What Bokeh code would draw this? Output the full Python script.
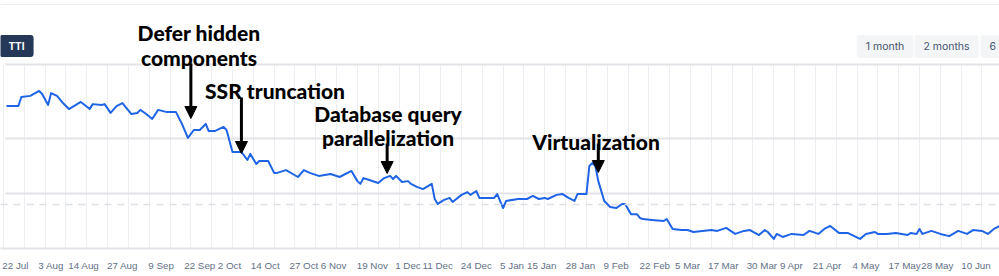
import pandas as pd
from bokeh.plotting import figure
from bokeh.models import (ColumnDataSource, Range1d, FixedTicker, Span, Label,
                          Arrow, NormalHead, Grid)
from bokeh.embed import file_html
from bokeh.resources import INLINE

# ---------------- data ----------------
dates = ["2022-07-19","2022-07-23","2022-07-24","2022-07-27","2022-07-30","2022-07-31",
         "2022-08-02","2022-08-03","2022-08-05","2022-08-07","2022-08-09","2022-08-13",
         "2022-08-16","2022-08-17","2022-08-20","2022-08-21","2022-08-23","2022-08-25",
         "2022-08-27","2022-08-30","2022-09-01","2022-09-02","2022-09-04","2022-09-06",
         "2022-09-08","2022-09-11","2022-09-14","2022-09-16","2022-09-18","2022-09-20",
         "2022-09-22","2022-09-24","2022-09-25","2022-09-27","2022-09-30","2022-10-01",
         "2022-10-03","2022-10-06","2022-10-08","2022-10-09","2022-10-11","2022-10-12",
         "2022-10-15","2022-10-17","2022-10-18","2022-10-21","2022-10-25","2022-10-27",
         "2022-10-29","2022-11-01","2022-11-05","2022-11-08","2022-11-12","2022-11-14",
         "2022-11-15","2022-11-16","2022-11-18","2022-11-21","2022-11-23","2022-11-25",
         "2022-11-26","2022-11-27","2022-11-29","2022-12-01","2022-12-02","2022-12-04",
         "2022-12-06","2022-12-09","2022-12-10","2022-12-11","2022-12-13","2022-12-15",
         "2022-12-16","2022-12-19","2022-12-21","2022-12-22","2022-12-24","2022-12-25",
         "2022-12-28","2022-12-30","2022-12-31","2023-01-02","2023-01-03","2023-01-07",
         "2023-01-10","2023-01-12","2023-01-14","2023-01-16","2023-01-17","2023-01-20",
         "2023-01-22","2023-01-24","2023-01-26","2023-01-27","2023-01-30","2023-01-31",
         "2023-02-01","2023-02-02","2023-02-03","2023-02-05","2023-02-07","2023-02-09",
         "2023-02-11","2023-02-12","2023-02-14","2023-02-16","2023-02-17","2023-02-18",
         "2023-02-21","2023-02-25","2023-02-26","2023-02-28","2023-03-03","2023-03-05",
         "2023-03-07","2023-03-10","2023-03-13","2023-03-15","2023-03-18","2023-03-21",
         "2023-03-24","2023-03-26","2023-03-29","2023-03-31","2023-04-01","2023-04-03",
         "2023-04-04","2023-04-06","2023-04-09","2023-04-13","2023-04-15","2023-04-18",
         "2023-04-20","2023-04-22","2023-04-25","2023-04-28","2023-05-02","2023-05-04",
         "2023-05-07","2023-05-08","2023-05-11","2023-05-14","2023-05-18","2023-05-19",
         "2023-05-21","2023-05-22","2023-05-23","2023-05-26","2023-05-29","2023-06-01",
         "2023-06-04","2023-06-07","2023-06-09","2023-06-12","2023-06-14","2023-06-16",
         "2023-06-18"]

tti = [5.18,5.18,5.51,5.55,5.73,5.62,
       5.22,5.65,5.55,5.29,5.07,5.33,
       5.07,5.25,5.22,5.25,4.93,5.18,
       5.29,4.89,4.93,5.04,4.89,4.71,
       5.04,4.96,4.96,4.53,4.02,4.31,
       4.31,4.53,4.27,4.27,4.42,4.31,
       3.51,3.51,3.22,3.44,3.07,3.18,
       3.18,2.75,2.75,2.85,2.60,2.85,
       2.75,2.64,2.71,2.60,2.82,2.45,
       2.35,2.56,2.49,2.38,2.56,2.64,
       2.53,2.64,2.42,2.45,2.35,2.24,
       2.16,2.35,1.80,1.62,1.76,1.84,
       1.69,1.95,2.05,1.95,2.09,1.84,
       1.84,1.84,1.98,1.47,1.73,1.80,
       1.80,1.91,1.80,1.84,1.80,1.95,
       1.98,1.84,1.73,1.98,1.98,3.00,
       3.11,3.00,2.45,1.73,1.51,1.47,
       1.62,1.62,1.25,1.25,1.11,1.07,
       1.04,1.00,1.07,0.71,0.67,0.67,
       0.60,0.64,0.67,0.64,0.75,0.53,
       0.64,0.67,0.49,0.67,0.60,0.35,
       0.53,0.42,0.53,0.49,0.64,0.53,
       0.71,0.82,0.56,0.56,0.35,0.53,
       0.60,0.53,0.53,0.56,0.49,0.56,
       0.53,0.71,0.53,0.64,0.53,0.45,
       0.64,0.53,0.67,0.64,0.53,0.71,
       0.82]

tick_dates = ["2022-07-22","2022-08-03","2022-08-14","2022-08-27","2022-09-09","2022-09-22",
              "2022-10-02","2022-10-14","2022-10-27","2022-11-06","2022-11-19","2022-12-01",
              "2022-12-11","2022-12-24","2023-01-05","2023-01-15","2023-01-28","2023-02-09",
              "2023-02-22","2023-03-05","2023-03-17","2023-03-30","2023-04-09","2023-04-21",
              "2023-05-04","2023-05-17","2023-05-28","2023-06-10"]
tick_labels = ["22 Jul","3 Aug","14 Aug","27 Aug","9 Sep","22 Sep","2 Oct","14 Oct","27 Oct",
               "6 Nov","19 Nov","1 Dec","11 Dec","24 Dec","5 Jan","15 Jan","28 Jan","9 Feb",
               "22 Feb","5 Mar","17 Mar","30 Mar","9 Apr","21 Apr","4 May","17 May","28 May",
               "10 Jun"]

event_dates = ["2022-09-19", "2022-10-06", "2022-11-24", "2023-02-03"]
event_labels = [["Defer hidden", "components"], ["SSR truncation"],
                ["Database query", "parallelization"], ["Virtualization"]]

grid_values = [2, 4]
target_value = 1.6
metric_button = "TTI"
range_buttons = ["1 month", "2 months", "6 months"]

# ---------------- layout ----------------
W, H = 999, 276
PLOT_LEFT, PLOT_TOP, FRAME_BOTTOM = 5, 64, 248
PX_PER_UNIT = 27.5
Y_END = FRAME_BOTTOM / PX_PER_UNIT          # frame spans the whole canvas height
PX_PER_DAY = 2.974
DAY0_PX = 14.9                              # pixel column of 2022-07-22
DAY0 = pd.Timestamp("2022-07-22")
ANN_FONT = "Lato Black, Lato"


def py(cy):  # canvas pixel row -> data value
    return (FRAME_BOTTOM - cy) / PX_PER_UNIT


def px_to_time(cx):
    return DAY0 + pd.Timedelta(days=(cx - DAY0_PX) / PX_PER_DAY)


def sy(cy):  # canvas row -> screen units of the frame (upwards from bottom)
    return FRAME_BOTTOM - cy


def ms(d):
    return int(pd.Timestamp(d).value // 10**6)


src = ColumnDataSource(dict(date=pd.to_datetime(dates), tti=tti))

x_start = px_to_time(0)
x_end = px_to_time(W)
plot_top_value = py(PLOT_TOP)

p = figure(width=W, height=H, x_axis_type="datetime", y_axis_location=None,
           x_range=Range1d(x_start, x_end), y_range=Range1d(0, Y_END),
           output_backend="svg", toolbar_location=None,
           min_border_left=0, min_border_right=0,
           min_border_top=0, min_border_bottom=H - FRAME_BOTTOM)
p.outline_line_color = None
p.background_fill_color = "white"
p.border_fill_color = "white"

has_cb = "cross_bounds" in Grid.properties()

# grids
p.ygrid.ticker = FixedTicker(ticks=grid_values + [plot_top_value])
p.ygrid.grid_line_color = "#e2e4e8"
p.ygrid.grid_line_width = 2
weekly = pd.date_range("2022-07-18", "2023-06-30", freq="W-MON")
GRID_V = "#eceef1"
p.xgrid.grid_line_color = GRID_V
p.xgrid.grid_line_width = 1
if has_cb:
    p.ygrid.cross_bounds = (ms(px_to_time(PLOT_LEFT)), ms(x_end))
    p.xgrid.ticker = FixedTicker(ticks=[ms(d) for d in weekly])
    p.xgrid.cross_bounds = (0, plot_top_value)
else:
    p.xgrid.visible = False
    p.segment(x0=weekly, x1=weekly, y0=0, y1=plot_top_value,
              line_color=GRID_V, line_width=1)

# x axis
p.xaxis.ticker = FixedTicker(ticks=[ms(d) for d in tick_dates])
p.xaxis.major_label_overrides = {ms(d): lab for d, lab in zip(tick_dates, tick_labels)}
p.xaxis.major_tick_line_color = None
p.xaxis.minor_tick_line_color = None
p.xaxis.axis_line_color = "#e2e4e8"
p.xaxis.axis_line_width = 2
p.xaxis.major_label_standoff = 5
p.xaxis.major_label_text_font = "Liberation Sans"
p.xaxis.major_label_text_font_size = "9.8px"
p.xaxis.major_label_text_color = "#626f86"

# card border line and target line
p.add_layout(Span(location=py(4), dimension="width", line_color="#eeeeee", line_width=1))
p.add_layout(Span(location=target_value, dimension="width", line_color="#dcdfe4",
                  line_width=1.5, line_dash="7 6"))

# series
p.line(x="date", y="tti", source=src, line_color="#1f64e6", line_width=2, line_join="round")

# buttons
p.add_layout(Label(x=16, y=sy(45.5), x_units="screen", y_units="screen",
                   text=metric_button, text_align="center", text_baseline="middle",
                   text_color="white", text_font="Inter", text_font_size="10px",
                   text_font_style="bold", background_fill_color="#253858",
                   padding=(9, 5), border_radius=3))
btn_pos = [(884.5, "center"), (946, "center"), (980, "left")]
for label, (bx, align) in zip(range_buttons, btn_pos):
    p.add_layout(Label(x=bx, y=sy(46), x_units="screen", y_units="screen",
                       text=label, text_align=align, text_baseline="middle",
                       text_color="#44546f", text_font="Inter", text_font_size="10.5px",
                       background_fill_color="#f4f5f7", padding=(9, 5), border_radius=3))

# annotations
text_layout = [(198.5, [31.7, 56.7]), (274.5, [90]), (387.5, [113, 137.3]), (595.5, [140.7])]
arrow_layout = [(63, 118), (97, 153), (143, 173), (143, 172)]
for ev_date, lines, (tx, ys), (a0, a1) in zip(event_dates, event_labels, text_layout, arrow_layout):
    for line, ty in zip(lines, ys):
        p.add_layout(Label(x=tx, y=sy(ty), x_units="screen", y_units="screen",
                           text=line, text_align="center", text_baseline="alphabetic",
                           text_color="black", text_font=ANN_FONT, text_font_size="21px",
                           text_font_style="bold"))
    t = pd.Timestamp(ev_date)
    p.add_layout(Arrow(x_start=t, y_start=py(a0), x_end=t, y_end=py(a1),
                       line_color="black", line_width=3,
                       end=NormalHead(size=12, fill_color="black", line_color="black",
                                      line_width=1)))

open("out.html", "w").write(file_html(p, INLINE))
